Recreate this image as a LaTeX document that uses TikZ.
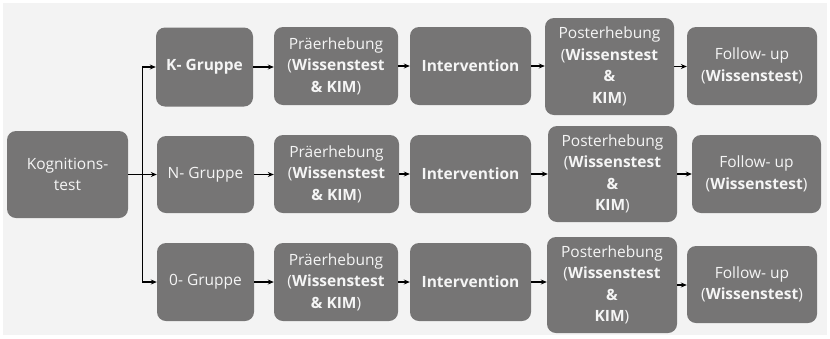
\documentclass[tikz,border=0pt]{standalone}
\usepackage{fontspec}
\setmainfont{Open Sans}
\usetikzlibrary{arrows.meta}
\definecolor{boxgrey}{RGB}{118,117,117}
\definecolor{bggrey}{RGB}{243,243,243}
\definecolor{txt}{RGB}{245,245,245}
\tikzset{
  box/.style={draw=none, fill=boxgrey, rounded corners=9pt, text=txt, align=center,
    inner sep=0pt, font=\fontsize{15.5}{21.5}\selectfont},
  arr/.style={draw=black, line width=1.1pt, -{Stealth[length=6pt,width=5pt]}},
  ln/.style={draw=black, line width=1.1pt},
}
\begin{document}
\begin{tikzpicture}[x=1pt,y=-1pt]
\useasboundingbox (0,0) rectangle (830,338);
\fill[white] (0,0) rectangle (830,338);
\fill[bggrey] (3,3) rectangle (827,335);

\node[box, minimum width=121pt, minimum height=87pt] (kog) at (67.5,174.5) {Kognitions-\\test};

\node[box, minimum width=97pt, minimum height=79pt] (kg) at (204.5,67) {\textbf{K- Gruppe}};
\node[box, minimum width=97pt, minimum height=77pt] (ng) at (205.5,174.5) {N- Gruppe};
\node[box, minimum width=97pt, minimum height=78pt] (og) at (205.5,282) {0- Gruppe};

\node[box, minimum width=124pt, minimum height=78pt] (kp) at (336,66) {Präerhebung\\(\textbf{Wissenstest}\\\textbf{\& KIM})};
\node[box, minimum width=125pt, minimum height=78pt] (np) at (336.5,174) {Präerhebung\\(\textbf{Wissenstest}\\\textbf{\& KIM})};
\node[box, minimum width=124pt, minimum height=78pt] (op) at (336,282) {Präerhebung\\(\textbf{Wissenstest}\\\textbf{\& KIM})};

\node[box, minimum width=121pt, minimum height=78pt] (ki) at (470.5,66) {\textbf{Intervention}};
\node[box, minimum width=121pt, minimum height=78pt] (ni) at (470.5,174) {\textbf{Intervention}};
\node[box, minimum width=121pt, minimum height=78pt] (oi) at (470.5,282) {\textbf{Intervention}};

\node[box, minimum width=129pt, minimum height=97pt] (kpo) at (609.5,66.5) {Posterhebung\\(\textbf{Wissenstest}\\\textbf{\&}\\\textbf{KIM})};
\node[box, minimum width=129pt, minimum height=96pt] (npo) at (612.5,174) {Posterhebung\\(\textbf{Wissenstest}\\\textbf{\&}\\\textbf{KIM})};
\node[box, minimum width=130pt, minimum height=96pt] (opo) at (612,285) {Posterhebung\\(\textbf{Wissenstest}\\\textbf{\&}\\\textbf{KIM})};

\node[box, minimum width=130pt, minimum height=78pt] (kf) at (752,66) {Follow- up\\(\textbf{Wissenstest})};
\node[box, minimum width=129pt, minimum height=78pt] (nf) at (756.5,174) {Follow- up\\(\textbf{Wissenstest})};
\node[box, minimum width=130pt, minimum height=77pt] (of) at (752,284.5) {Follow- up\\(\textbf{Wissenstest})};

\coordinate (split) at (142.5,174.5);
\draw[ln] (kog.east) -- (split);
\draw[arr] (split) |- (kg.west);
\draw[arr] (split) -- (ng.west);
\draw[arr] (split) |- (og.west);

\foreach \a/\b in {kg/kp, kp/ki, ki/kpo, kpo/kf, ng/np, np/ni, ni/npo, npo/nf, og/op, op/oi, oi/opo, opo/of}{
  \draw[arr] (\a.east) -- (\a.east -| \b.west);
}
\end{tikzpicture}
\end{document}
